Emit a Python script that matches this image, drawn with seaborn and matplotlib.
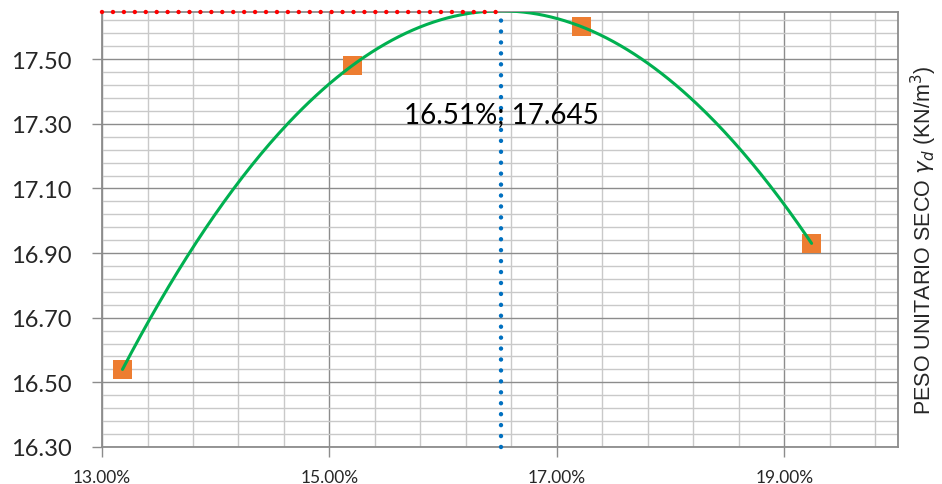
import numpy as np
import pandas as pd
import matplotlib
matplotlib.use("Agg")
import matplotlib.pyplot as plt
import seaborn as sns
from matplotlib.ticker import FuncFormatter

# Proctor compaction results
humedad = [13.18, 15.20, 17.22, 19.24]      # moisture content (%)
peso_seco = [16.54, 17.48, 17.60, 16.93]    # dry unit weight (kN/m3)

# optimum moisture content and maximum dry unit weight
omc = 16.51
mdd = 17.645

x_ticks = [13.0, 15.0, 17.0, 19.0]
y_ticks = [16.30, 16.50, 16.70, 16.90, 17.10, 17.30, 17.50]
x_lim = (13.0, 20.0)
y_lim = (16.30, 17.645)

sns.set_theme(style="white")
plt.rcParams["font.family"] = ["Lato", "DejaVu Sans"]

fig = plt.figure(figsize=(9.42, 4.85), dpi=100)
ax = fig.add_axes([0.1083, 0.0763, 0.8450, 0.8963])

# cubic trend through the compaction points
coef = np.polyfit(humedad, peso_seco, 3)
xs = np.linspace(min(humedad), max(humedad), 300)
curve = pd.DataFrame({"w": xs, "g": np.polyval(coef, xs)})
pts = pd.DataFrame({"w": humedad, "g": peso_seco})

sns.scatterplot(data=pts, x="w", y="g", marker="s", s=185, color="#ED7D31",
                edgecolor="none", linewidth=0, zorder=3, ax=ax, legend=False)
sns.lineplot(data=curve, x="w", y="g", color="#00B050", linewidth=2.2,
             zorder=4, ax=ax, legend=False)

dot = (0, (0.01, 2.45))
ax.plot([x_lim[0], omc], [mdd, mdd], color="#FF0000", linewidth=3.2,
        linestyle=dot, dash_capstyle="round", zorder=5, clip_on=False)
ax.plot([omc, omc], [y_lim[0], mdd], color="#0070C0", linewidth=3.2,
        linestyle=dot, dash_capstyle="round", zorder=5, clip_on=False)

ax.text(omc, 17.33, f"{omc:.2f}%; {mdd:.3f}", ha="center", va="center",
        fontsize=20, color="#000000", zorder=6)

ax.set_xlim(*x_lim)
ax.set_ylim(*y_lim)
ax.set_xticks(x_ticks)
ax.set_yticks(y_ticks)
ax.set_xticks(np.arange(13.0, 19.9, 0.4), minor=True)
ax.set_yticks(np.arange(16.30, 17.64, 0.04), minor=True)
ax.xaxis.set_major_formatter(FuncFormatter(lambda v, p: f"{v:.2f}%"))
ax.yaxis.set_major_formatter(FuncFormatter(lambda v, p: f"{v:.2f}"))

ax.grid(which="minor", color="#C9C9C9", linewidth=1.0, zorder=0)
ax.grid(which="major", color="#8C8C8C", linewidth=1.0, zorder=1)
ax.set_axisbelow(True)

ax.tick_params(which="minor", length=0)
ax.tick_params(axis="y", which="major", length=7, width=1, color="#8C8C8C",
               labelsize=17, pad=15, left=True, direction="out")
ax.tick_params(axis="x", which="major", length=7, width=1, color="#8C8C8C",
               labelsize=12.5, pad=9, bottom=True, direction="out")

for sp in ax.spines.values():
    sp.set_color("#8C8C8C")
    sp.set_linewidth(1.3)

ax.set_xlabel("")
ax.set_ylabel("")

fig.text(0.981, 0.505, r"PESO UNITARIO SECO $\gamma_d$ (KN/m$^3$)",
         rotation=90, ha="center", va="center", fontsize=15.5,
         family=["Liberation Sans", "DejaVu Sans"])

fig.savefig("out.png", dpi=100)
